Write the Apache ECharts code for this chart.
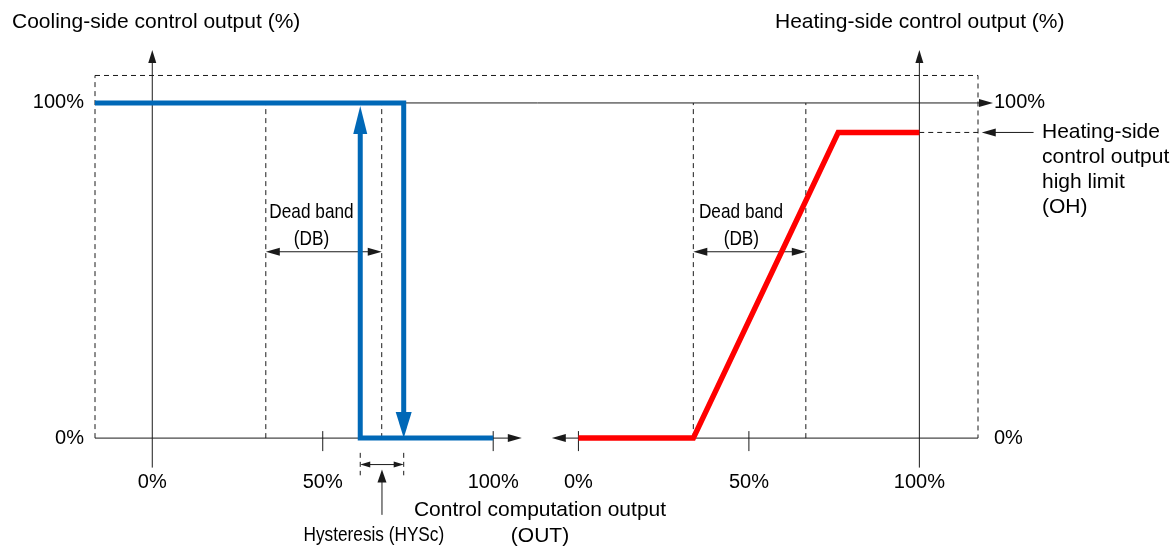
<!DOCTYPE html>
<html>
<head>
<meta charset="utf-8">
<script src="https://cdn.jsdelivr.net/npm/echarts@6/dist/echarts.min.js"></script>
<style>
html, body { margin: 0; padding: 0; background: #fff; }
#main { width: 1173px; height: 554px; }
</style>
</head>
<body>
<div id="main"></div>
<script>
// tick labels
var coolTicks = [0, 50, 100];
var heatTicks = [0, 50, 100];
var outputTicks = [0, 100];
var coolTickMarks = [50, 100];
var heatTickMarks = [0, 50];

// cooling side: on/off with hysteresis, x = control computation output (%)
var coolDown = [[-16.8, 100], [73.75, 100], [73.75, 0]];
var coolUp = [[100, 0], [61, 0], [61, 99.1]];
var coolDB = [33.3, 67.3];
var coolHys = [61, 73.75];

// heating side: proportional with high limit
var heatOut = [[0, 0], [33.7, 0], [76.2, 91.2], [100, 91.2]];
var heatDB = [33.7, 66.7];
var heatOH = 91.2;

// frame (data units)
var COOL_MIN = -16.8, COOL_MAX = 242.2;
var HEAT_MIN = -141.8, HEAT_MAX = 117.2;
var Y_MAX = 115.8, Y_LOW = -8.8, BOX_TOP = 108.2, DB_Y = 55.6;

var INK = '#1a1a1a';
var FONT = "'Liberation Sans', Arial, sans-serif";

function head(tip, from, size) {
  var dx = tip[0] - from[0], dy = tip[1] - from[1];
  var d = Math.sqrt(dx * dx + dy * dy) || 1;
  var ux = dx / d, uy = dy / d;
  var bx = tip[0] - ux * size[0], by = tip[1] - uy * size[0];
  var h = size[1] / 2;
  return {
    base: [bx + ux, by + uy],
    points: [tip, [bx - uy * h, by + ux * h], [bx + uy * h, by - ux * h]]
  };
}

function lines(xIndex, items, st, z) {
  return {
    type: 'custom',
    xAxisIndex: xIndex,
    yAxisIndex: 0,
    z: z,
    silent: true,
    data: items.map(function (it) { return it.pts[0]; }),
    renderItem: function (params, api) {
      var it = items[params.dataIndex];
      var pts = it.pts.map(function (p) { return api.coord(p); });
      var n = pts.length;
      var kids = [];
      var a = it.start ? head(pts[0], pts[1], it.start) : null;
      var b = it.end ? head(pts[n - 1], pts[n - 2], it.end) : null;
      if (a) { pts[0] = a.base; }
      if (b) { pts[n - 1] = b.base; }
      kids.push({
        type: 'polyline',
        shape: { points: pts },
        style: { stroke: st.color, lineWidth: st.width, lineDash: st.dash || null, fill: null, lineJoin: 'miter', lineCap: 'butt' }
      });
      [a, b].forEach(function (h) {
        if (h) kids.push({ type: 'polygon', shape: { points: h.points }, style: { fill: st.color } });
      });
      return { type: 'group', children: kids };
    }
  };
}

function ticks(xIndex, values) {
  return {
    type: 'custom',
    xAxisIndex: xIndex,
    yAxisIndex: 0,
    silent: true,
    data: values.map(function (v) { return [v, 0]; }),
    renderItem: function (params, api) {
      var p = api.coord([api.value(0), 0]);
      return { type: 'line', shape: { x1: p[0], y1: p[1] - 7, x2: p[0], y2: p[1] + 13 }, style: { stroke: INK, lineWidth: 1 } };
    }
  };
}

// condensed annotation text (narrow face squeezed from Liberation Sans)
function notes(xIndex, items) {
  return {
    type: 'custom',
    xAxisIndex: xIndex,
    yAxisIndex: 0,
    silent: true,
    data: items.map(function (t) { return t.at; }),
    renderItem: function (params, api) {
      var t = items[params.dataIndex];
      var p = api.coord(t.at);
      return {
        type: 'text', x: p[0], y: p[1], scaleX: 0.82,
        style: { text: t.text, fill: '#000', fontSize: 21, fontFamily: FONT, align: 'center', verticalAlign: 'middle', textAlign: 'center', textVerticalAlign: 'middle' }
      };
    }
  };
}

var thin = { color: INK, width: 1 };
var dashed = { color: INK, width: 1, dash: [5, 4] };
var A = [14, 8], S = [10, 6];

var coolThin = [
  { pts: [[0, Y_LOW], [0, Y_MAX]], end: [13, 8] },
  { pts: [[COOL_MIN, 0], [108.4, 0]], end: A },
  { pts: [[coolDB[0], DB_Y], [coolDB[1], DB_Y]], start: A, end: A },
  { pts: [[coolHys[0], -7.9], [coolHys[1], -7.9]], start: S, end: S },
  { pts: [[(coolHys[0] + coolHys[1]) / 2, -22.9], [(coolHys[0] + coolHys[1]) / 2, -9.4]], end: [13, 9] }
];
var coolDash = [
  { pts: [[coolDB[0], 0], [coolDB[0], 100]] },
  { pts: [[coolDB[1], 0], [coolDB[1], 100]] },
  { pts: [[coolHys[0], -4.4], [coolHys[0], -11.1]] },
  { pts: [[coolHys[1], -4.4], [coolHys[1], -11.1]] },
  { pts: [[COOL_MIN, 0], [COOL_MIN, BOX_TOP]] }
];
var heatThin = [
  { pts: [[100, Y_LOW], [100, Y_MAX]], end: [13, 8] },
  { pts: [[HEAT_MAX, 0], [-7.8, 0]], end: A },
  { pts: [[heatDB[0], DB_Y], [heatDB[1], DB_Y]], start: A, end: A },
  { pts: [[HEAT_MIN, 100], [121.6, 100]], end: A },
  { pts: [[133.5, heatOH], [118.3, heatOH]], end: A }
];
var heatDash = [
  { pts: [[heatDB[0], 0], [heatDB[0], 100]] },
  { pts: [[heatDB[1], 0], [heatDB[1], 100]] },
  { pts: [[HEAT_MIN, BOX_TOP], [HEAT_MAX, BOX_TOP], [HEAT_MAX, 0]] },
  { pts: [heatOut[2], [HEAT_MAX, heatOH]] }
];

var axisLabel = { formatter: '{value}%', fontSize: 20, color: '#000', fontFamily: FONT };
function xAxis(min, max, vals, extra) {
  return Object.assign({
    type: 'value', gridIndex: 0, position: 'bottom', min: min, max: max,
    axisLine: { show: false, onZero: false }, axisTick: { show: false }, splitLine: { show: false },
    axisLabel: Object.assign({ customValues: vals, margin: 34 }, axisLabel)
  }, extra || {});
}
function yAxis(pos, margin) {
  return {
    type: 'value', gridIndex: 0, position: pos, min: 0, max: Y_MAX,
    axisLine: { show: false, onZero: false }, axisTick: { show: false }, splitLine: { show: false },
    axisLabel: Object.assign({ customValues: outputTicks, margin: margin }, axisLabel)
  };
}

var option = {
  animation: false,
  grid: { left: 95, right: 195, top: 50, bottom: 109 },
  xAxis: [
    xAxis(COOL_MIN, COOL_MAX, coolTicks),
    xAxis(HEAT_MIN, HEAT_MAX, heatTicks, {
      name: 'Control computation output\n(OUT)',
      nameLocation: 'middle',
      nameGap: 57,
      nameTextStyle: { fontSize: 21, lineHeight: 26, color: '#000', fontFamily: FONT, padding: [0, 0, 0, 7] }
    })
  ],
  yAxis: [yAxis('left', 11), yAxis('right', 16)],
  graphic: [
    { type: 'text', x: 12, y: 22, style: { text: 'Cooling-side control output (%)', fill: '#000', font: '21px ' + FONT, verticalAlign: 'middle', textVerticalAlign: 'middle' } },
    { type: 'text', x: 775, y: 22, style: { text: 'Heating-side control output (%)', fill: '#000', font: '21px ' + FONT, verticalAlign: 'middle', textVerticalAlign: 'middle' } },
    { type: 'text', x: 1042, y: 120, style: { text: 'Heating-side\ncontrol output\nhigh limit\n(OH)', fill: '#000', font: '21px ' + FONT, lineHeight: 25, verticalAlign: 'top', textVerticalAlign: 'top' } }
  ],
  series: [
    lines(0, coolDash, dashed, 2),
    lines(1, heatDash, dashed, 2),
    lines(0, coolThin, thin, 3),
    lines(1, heatThin, thin, 3),
    ticks(0, coolTickMarks),
    ticks(1, heatTickMarks),
    notes(0, [
      { text: 'Dead band', at: [46.7, 67.4] },
      { text: '(DB)', at: [46.7, 59.2] },
      { text: 'Hysteresis (HYSc)', at: [65, -29.1] }
    ]),
    notes(1, [
      { text: 'Dead band', at: [47.7, 67.4] },
      { text: '(DB)', at: [47.8, 59.2] }
    ]),
    lines(0, [{ pts: coolDown, end: [26, 16] }, { pts: coolUp, end: [28, 14] }], { color: '#0068b7', width: 5 }, 5),
    lines(1, [{ pts: heatOut }], { color: '#ff0000', width: 5.5 }, 5)
  ]
};

var chartDom = document.getElementById('main');
var myChart = echarts.init(chartDom);
option && myChart.setOption(option);
</script>
</body>
</html>
